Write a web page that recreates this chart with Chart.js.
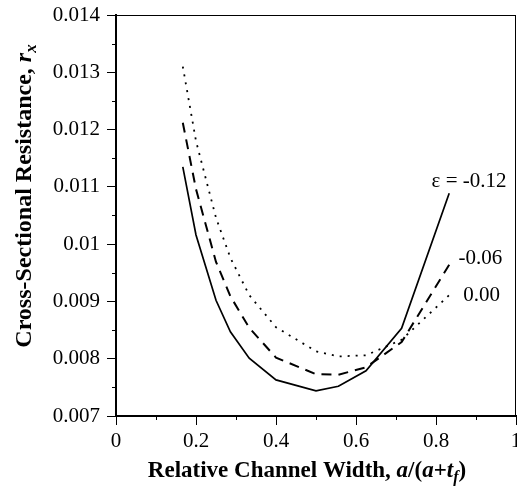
<!DOCTYPE html>
<html><head><meta charset="utf-8">
<script src="https://cdn.jsdelivr.net/npm/chart.js@4"></script>
<style>html,body{margin:0;padding:0;background:#fff}canvas{display:block}</style>
</head><body><canvas id="c" width="517" height="497"></canvas>
<script>
// ---- data ----
const relWidth = [0.167, 0.2, 0.25, 0.286, 0.333, 0.4, 0.5, 0.556, 0.625, 0.714, 0.833];
const rEpsM012 = [0.01135, 0.01016, 0.00902, 0.00847, 0.00801, 0.00763, 0.00744, 0.00752, 0.00779, 0.00853, 0.01089];
const rEpsM006 = [0.01212, 0.01096, 0.00969, 0.00909, 0.00854, 0.00802, 0.00773, 0.00772, 0.00785, 0.00829, 0.00964];
const rEps000  = [0.0131, 0.0118, 0.01046, 0.00976, 0.00911, 0.00855, 0.00813, 0.00804, 0.00806, 0.00833, 0.00911];
const seriesNames = ['ε = -0.12', '-0.06', '0.00'];
const xTickLabels = ['0', '0.2', '0.4', '0.6', '0.8', '1'];
const yTickLabels = ['0.007', '0.008', '0.009', '0.01', '0.011', '0.012', '0.013', '0.014'];
const xMinorTicks = [0.1, 0.3, 0.5, 0.7, 0.9];
const yMinorTicks = [0.0075, 0.0085, 0.0095, 0.0105, 0.0115, 0.0125, 0.0135];
// curve label anchors (data coords: left edge, vertical middle)
const labelAnchorX = [0.789, 0.856, 0.868];
const labelAnchorY = [0.01109, 0.00975, 0.00911];

const SERIF = '"Liberation Serif", "Times New Roman", serif';
const toPts = ys => relWidth.map((x, i) => ({x: x, y: ys[i]}));

function drawRich(ctx, segs, x, y) {
  let total = 0;
  segs.forEach(s => { ctx.font = s.font; s.w = ctx.measureText(s.t).width; total += s.w; });
  let cx = x - total / 2;
  segs.forEach(s => { ctx.font = s.font; ctx.fillText(s.t, cx, y + (s.dy || 0)); cx += s.w; });
}

const decor = {
  id: 'decor',
  afterDraw(chart) {
    const {ctx, chartArea: a, scales} = chart;
    const xs = scales.x, ys = scales.y;
    ctx.save();
    ctx.strokeStyle = '#000';
    // frame top and right
    ctx.lineWidth = 1;
    ctx.beginPath();
    ctx.moveTo(a.left, a.top + 0.5); ctx.lineTo(a.right, a.top + 0.5);
    ctx.moveTo(a.right - 0.5, a.top); ctx.lineTo(a.right - 0.5, a.bottom);
    ctx.stroke();
    // minor ticks
    ctx.beginPath();
    xMinorTicks.forEach(v => { const p = Math.round(xs.getPixelForValue(v)) + 0.5; ctx.moveTo(p, a.bottom); ctx.lineTo(p, a.bottom + 4); });
    yMinorTicks.forEach(v => { const p = Math.round(ys.getPixelForValue(v)) + 0.5; ctx.moveTo(a.left, p); ctx.lineTo(a.left - 4, p); });
    ctx.stroke();
    // curve labels
    ctx.fillStyle = '#000';
    ctx.font = '21px ' + SERIF;
    ctx.textBaseline = 'middle';
    ctx.textAlign = 'left';
    seriesNames.forEach((n, i) => {
      ctx.fillText(n, xs.getPixelForValue(labelAnchorX[i]), ys.getPixelForValue(labelAnchorY[i]));
    });
    // axis titles
    ctx.textBaseline = 'alphabetic';
    const B = 'bold 23px ' + SERIF, BI = 'bold italic 23px ' + SERIF, SUB = 'bold italic 16px ' + SERIF;
    drawRich(ctx, [
      {t: 'Relative Channel Width, ', font: B},
      {t: 'a', font: BI}, {t: '/(', font: B}, {t: 'a', font: BI}, {t: '+', font: B},
      {t: 't', font: BI}, {t: 'f', font: SUB, dy: 5}, {t: ')', font: B}
    ], (a.left + a.right) / 2 - 9, 477);
    const B2 = 'bold 24px ' + SERIF, BI2 = 'bold italic 24px ' + SERIF, SUB2 = 'bold italic 17px ' + SERIF;
    ctx.translate(31, 196);
    ctx.rotate(-Math.PI / 2);
    drawRich(ctx, [
      {t: 'Cross-Sectional Resistance, ', font: B2},
      {t: 'r', font: BI2}, {t: 'x', font: SUB2, dy: 5}
    ], 0, 0);
    ctx.restore();
  }
};

new Chart(document.getElementById('c'), {
  type: 'line',
  data: {
    datasets: [
      {label: seriesNames[0], data: toPts(rEpsM012), borderColor: '#000', borderWidth: 1.7, pointRadius: 0, tension: 0, fill: false},
      {label: seriesNames[1], data: toPts(rEpsM006), borderColor: '#000', borderWidth: 2, borderDash: [10, 7], pointRadius: 0, tension: 0, fill: false},
      {label: seriesNames[2], data: toPts(rEps000), borderColor: '#000', borderWidth: 1.8, borderDash: [2, 6], pointRadius: 0, tension: 0, fill: false}
    ]
  },
  options: {
    responsive: false,
    animation: false,
    devicePixelRatio: 1,
    layout: {padding: {top: 15, right: 1, left: 0, bottom: 0}},
    plugins: {legend: {display: false}, tooltip: {enabled: false}},
    scales: {
      x: {
        type: 'linear', min: 0, max: 1,
        afterFit: s => { s.height = 81; s.paddingLeft = 0; s.paddingRight = 0; },
        border: {display: true, color: '#000', width: 2},
        grid: {drawOnChartArea: false, drawTicks: true, tickLength: 9, color: '#000', lineWidth: 1},
        ticks: {stepSize: 0.2, color: '#000', padding: 4, maxRotation: 0,
          font: {family: SERIF, size: 21},
          callback: (v) => { const i = Math.round(v / 0.2); return Math.abs(v - i * 0.2) < 1e-9 ? xTickLabels[i] : ''; }}
      },
      y: {
        type: 'linear', min: 0.007, max: 0.014,
        afterFit: s => { s.width = 116; s.paddingTop = 0; s.paddingBottom = 0; },
        border: {display: true, color: '#000', width: 2},
        grid: {drawOnChartArea: false, drawTicks: true, tickLength: 9, color: '#000', lineWidth: 1},
        ticks: {stepSize: 0.001, color: '#000', padding: 7,
          font: {family: SERIF, size: 21},
          callback: (v) => { const i = Math.round((v - 0.007) / 0.001); return yTickLabels[i] || ''; }}
      }
    }
  },
  plugins: [decor]
});
</script></body></html>
